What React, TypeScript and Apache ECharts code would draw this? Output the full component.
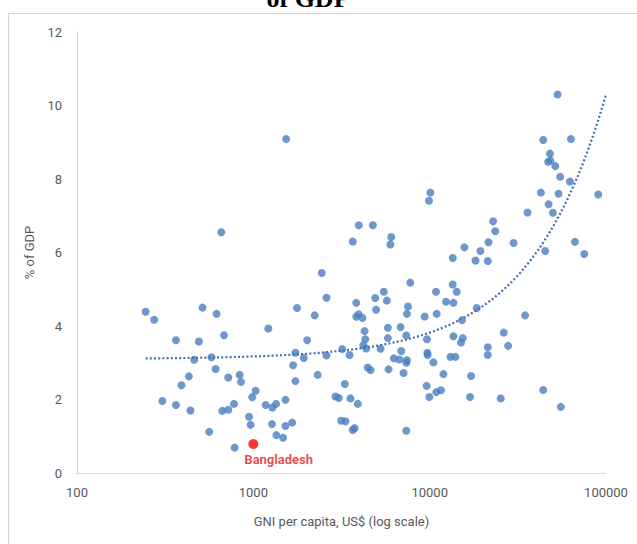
import React, { useEffect, useRef } from "react";
import * as echarts from "echarts";

// GNI per capita (US$) and health expenditure (% of GDP), one entry per country
const gniPerCapita: number[] = [
  245, 274, 515, 619, 364, 491, 682, 1216, 1770, 2229, 2600, 2018, 462, 579, 1732, 1932, 2600,
  611, 1681, 431, 391, 721, 836, 851, 1732, 2317, 1030, 986, 305, 364, 440, 667, 721, 777, 1175,
  1282, 1346, 1521, 2924, 945, 965, 1276, 1521, 1660, 562, 1351, 1475, 783,
  1535, 658, 3963, 4764, 3664, 6053, 5981, 2444, 3833, 4914, 5497, 5715, 4966, 3833, 3951, 4159,
  10090, 9913, 35890, 22910, 23550, 21560, 29900, 15740, 19410, 18190, 21360, 13510, 7762, 10860,
  13510, 14230, 12380, 13640, 7536, 7432, 9368, 10960, 18490, 34790, 15260, 4273, 5794, 6839,
  4312, 5794, 7374, 4200, 4366, 5267, 9654, 13640, 15400, 15060, 26330, 21360, 27860, 3192, 3512,
  6902, 6266, 6726, 7432, 7374, 9705, 9740, 13110, 13990, 21360, 5848, 4457, 4620, 7112, 10500,
  11970, 17170, 3304, 3053, 3556, 3913, 9612, 9953, 10910, 11590, 16940, 25290, 3148, 3332, 3664,
  3750, 7374,
  53170, 44050, 63240, 48080, 46990, 48400, 51520, 54960, 62440, 42730, 53830, 90350, 47250,
  50000, 45190, 66680, 75290, 44050, 55460,
];

const healthPctGdp: number[] = [
  4.39, 4.17, 4.5, 4.33, 3.61, 3.58, 3.75, 3.93, 4.49, 4.29, 4.77, 3.61, 3.08, 3.15, 3.27, 3.13, 3.2,
  2.83, 2.93, 2.63, 2.39, 2.6, 2.67, 2.48, 2.5, 2.67, 2.24, 2.06, 1.96, 1.85, 1.7, 1.69, 1.72, 1.88, 1.85,
  1.78, 1.88, 1.99, 2.08, 1.53, 1.31, 1.33, 1.28, 1.37, 1.12, 1.03, 0.96, 0.69,
  9.09, 6.55, 6.74, 6.74, 6.3, 6.42, 6.22, 5.44, 4.63, 4.76, 4.93, 4.69, 4.44, 4.25, 4.32, 4.22,
  7.63, 7.41, 7.09, 6.85, 6.58, 6.28, 6.26, 6.14, 6.04, 5.78, 5.77, 5.85, 5.18, 4.93,
  5.13, 4.93, 4.66, 4.63, 4.53, 4.33, 4.26, 4.33, 4.49, 4.29, 4.16, 3.86, 3.95, 3.97,
  3.64, 3.67, 3.74, 3.48, 3.39, 3.38, 3.64, 3.72, 3.67, 3.55, 3.82, 3.42, 3.46, 3.37, 3.21,
  3.32, 3.12, 3.09, 3.07, 3.0, 3.27, 3.21, 3.16, 3.16, 3.21, 2.82, 2.87, 2.8, 2.72, 3.01,
  2.69, 2.64, 2.42, 2.04, 2.03, 1.88, 2.37, 2.07, 2.2, 2.25, 2.07, 2.03, 1.42, 1.41, 1.17,
  1.22, 1.15,
  10.3, 9.06, 9.09, 8.69, 8.47, 8.5, 8.35, 8.06, 7.93, 7.63, 7.6, 7.58, 7.31,
  7.08, 6.04, 6.29, 5.96, 2.26, 1.8,
];

const highlightName = "Bangladesh";
const highlightGni = 1000;
const highlightPct = 0.79;

// Linear trend line (as drawn on the original, which looks curved on a log axis)
const trendIntercept = 3.1;
const trendSlope = 7.2e-5;
const trendStart = 245;
const trendEnd = 100000;

const xTicks = [100, 1000, 10000, 100000];
const yMin = 0;
const yMax = 12;
const yInterval = 2;

const titleText = "of GDP";
const xAxisName = "GNI per capita, US$ (log scale)";
const yAxisName = "% of GDP";

export default function App() {
  const ref = useRef<HTMLDivElement>(null);

  useEffect(() => {
    if (!ref.current) return;
    const chart = echarts.init(ref.current, undefined, { renderer: "svg" });

    const points = gniPerCapita.map((g, i) => [g, healthPctGdp[i]]);
    const trend: number[][] = [];
    const steps = 120;
    const l0 = Math.log10(trendStart);
    const l1 = Math.log10(trendEnd);
    for (let i = 0; i <= steps; i++) {
      const x = Math.pow(10, l0 + ((l1 - l0) * i) / steps);
      trend.push([x, trendIntercept + trendSlope * x]);
    }

    const labelFont = "Roboto, 'Open Sans', sans-serif";

    chart.setOption({
      animation: false,
      backgroundColor: "#ffffff",
      grid: {
        left: 77,
        right: 31,
        top: 32,
        bottom: 71,
        containLabel: false,
        outerBoundsMode: "none",
      },
      graphic: [
        {
          type: "rect",
          shape: { x: 8.5, y: 13.5, width: 700, height: 600 },
          style: { fill: "none", stroke: "#d4d4d4", lineWidth: 1 },
          silent: true,
        },
        {
          type: "text",
          x: 308,
          y: 11,
          style: {
            text: titleText,
            font: "bold 26px 'Liberation Serif', 'Times New Roman', serif",
            fill: "#000000",
            align: "center",
            verticalAlign: "bottom",
          },
        },
      ],
      xAxis: {
        type: "log",
        logBase: 10,
        min: xTicks[0],
        max: xTicks[xTicks.length - 1],
        name: xAxisName,
        nameLocation: "middle",
        nameGap: 42,
        nameTextStyle: { color: "#595959", fontSize: 13, fontFamily: labelFont },
        axisLine: { show: true, lineStyle: { color: "#d9d9d9", width: 1 } },
        axisTick: { show: false },
        splitLine: { show: false },
        minorTick: { show: false },
        axisLabel: {
          color: "#595959",
          fontSize: 13,
          fontFamily: labelFont,
          margin: 13,
          formatter: (v: number) => String(Math.round(v)),
        },
      },
      yAxis: {
        type: "value",
        min: yMin,
        max: yMax,
        interval: yInterval,
        name: yAxisName,
        nameLocation: "middle",
        nameGap: 36,
        nameRotate: 90,
        nameTextStyle: { color: "#595959", fontSize: 13, fontFamily: labelFont },
        axisLine: { show: true, lineStyle: { color: "#d9d9d9", width: 1 } },
        axisTick: { show: false },
        splitLine: { show: false },
        axisLabel: { color: "#595959", fontSize: 13, fontFamily: labelFont, margin: 15 },
      },
      series: [
        {
          type: "line",
          data: trend,
          showSymbol: false,
          symbol: "none",
          smooth: false,
          lineStyle: { color: "#416eac", width: 2.2, type: [2, 2.2] },
          z: 3,
          silent: true,
        },
        {
          type: "scatter",
          data: points,
          symbol: "circle",
          symbolSize: 8,
          itemStyle: { color: "#4a7ebf" },
          z: 2,
        },
        {
          type: "scatter",
          data: [[highlightGni, highlightPct]],
          symbol: "circle",
          symbolSize: 10,
          itemStyle: { color: "#ff0000" },
          z: 4,
          label: {
            show: true,
            formatter: highlightName,
            position: [-4, 14],
            align: "left",
            verticalAlign: "top",
            color: "#dc1f26",
            fontWeight: "bold",
            fontSize: 13,
            fontFamily: labelFont,
          },
        },
      ],
    });

    return () => chart.dispose();
  }, []);

  return (
    <div
      ref={ref}
      style={{ position: "fixed", left: 0, top: 0, width: 637, height: 544, background: "#fff" }}
    />
  );
}
